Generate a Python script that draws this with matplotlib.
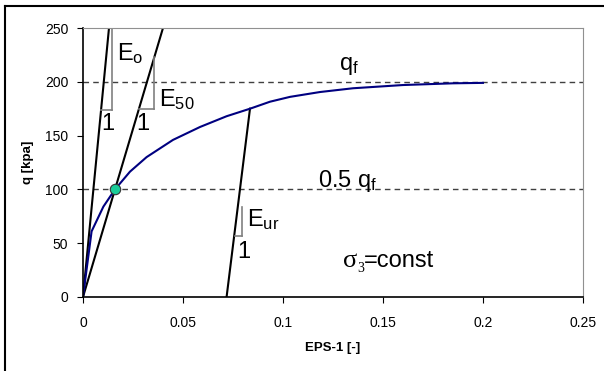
import matplotlib
matplotlib.use("Agg")
import matplotlib.pyplot as plt
from matplotlib.lines import Line2D

plt.rcParams['font.family'] = ['Liberation Sans', 'DejaVu Sans']
plt.rcParams['mathtext.fontset'] = 'custom'
plt.rcParams['mathtext.rm'] = 'Liberation Sans'
plt.rcParams['mathtext.it'] = 'Liberation Sans:italic'

# stress-strain curve
eps_curve = [0, 0.0043, 0.0102, 0.016, 0.0235, 0.0318, 0.045, 0.0585, 0.0718,
             0.0835, 0.0935, 0.1035, 0.1185, 0.135, 0.16, 0.185, 0.2]
q_curve = [0, 61, 84, 100, 116.5, 130, 146, 158, 168,
           175, 181.5, 186, 190.5, 194, 197, 198.6, 199]

# stiffness lines
eps_e0 = [0, 0.013]
q_e0 = [0, 250]
eps_e50 = [0, 0.04]
q_e50 = [0, 250]
eps_eur = [0.0718, 0.0835]
q_eur = [0, 175]

# the E50 point and reference levels
eps_pt = [0.016]
q_pt = [100]
q_levels = [200, 100]

# slope triangles: (vertical x, bottom q, top q, horizontal start x)
tri_e0 = (0.0143, 174, 250, 0.0090)
tri_e50 = (0.0355, 174.7, 223, 0.0280)
tri_eur = (0.0797, 57, 84, 0.0760)

fig = plt.figure(figsize=(6.04, 3.71), dpi=100)
ax = fig.add_axes([0.1374, 0.1995, 0.8278, 0.725])

# reference levels
for q in q_levels:
    ax.plot([0, 0.25], [q, q], color='#404040', lw=1, ls=(0, (4, 3)))

ax.plot(eps_e0, q_e0, color='black', lw=1.5)
ax.plot(eps_e50, q_e50, color='black', lw=1.5)
ax.plot(eps_eur, q_eur, color='black', lw=1.5)
ax.plot(eps_curve, q_curve, color='#000080', lw=1.5)

for xv, qb, qt, xh in (tri_e0, tri_e50, tri_eur):
    ax.plot([xv, xv], [qb, qt], color='#808080', lw=1.2)
    ax.plot([xh, xv], [qb, qb], color='#808080', lw=1.2)

ax.plot(eps_pt, q_pt, 'o', ms=7.5, color='#1ACC99', mec='#333333', mew=0.8, zorder=5)

fs = 17
ax.text(0.017, 220, r'E$_\mathrm{o}$', fontsize=fs, va='baseline')
ax.text(0.038, 177, r'E$_\mathrm{50}$', fontsize=fs, va='baseline')
ax.text(0.0125, 161, '1', fontsize=fs, ha='center', va='center')
ax.text(0.030, 161, '1', fontsize=fs, ha='center', va='center')
ax.text(0.0818, 66, r'E$_\mathrm{ur}$', fontsize=fs, va='baseline')
ax.text(0.0805, 42, '1', fontsize=fs, ha='center', va='center')
ax.text(0.128, 211, r'q$_\mathrm{f}$', fontsize=fs, va='baseline')
ax.text(0.1175, 102, r'0.5 q$_\mathrm{f}$', fontsize=fs, va='baseline')

# sigma_3 = const, built from pieces so sigma stays upright serif
sig = ax.text(0.1298, 28, 'σ', fontsize=19, va='baseline', family='Liberation Serif')
sub = ax.annotate('3', xy=(1, 28), xycoords=(sig, 'data'), xytext=(0.3, -3.5),
                  textcoords='offset points', fontsize=10, va='baseline',
                  family='Liberation Serif')
ax.annotate('=const', xy=(1, 28), xycoords=(sub, 'data'), xytext=(0, 0),
            textcoords='offset points', fontsize=fs, va='baseline')

ax.set_xlim(0, 0.25)
ax.set_ylim(0, 250)
ax.set_xticks([0, 0.05, 0.1, 0.15, 0.2, 0.25])
ax.set_xticklabels(['0', '0.05', '0.1', '0.15', '0.2', '0.25'])
ax.set_yticks([0, 50, 100, 150, 200, 250])
ax.tick_params(axis='x', direction='out', length=4, pad=10, labelsize=10)
ax.tick_params(axis='y', direction='out', length=4.5, pad=6, labelsize=10)

for s in ('top', 'right'):
    ax.spines[s].set_color('#909090')
for s in ('left', 'bottom'):
    ax.spines[s].set_color('black')
    ax.spines[s].set_linewidth(1.2)

ax.set_xlabel('EPS-1 [-]', fontsize=9.5, fontweight='bold', labelpad=8)
ax.set_ylabel('q [kpa]', fontsize=9.5, fontweight='bold', labelpad=8)

# outer frame (left and top edges only visible)
fig.add_artist(Line2D([5 / 604, 5 / 604], [0, 1 - 6 / 371], color='black', lw=1.5))
fig.add_artist(Line2D([5 / 604, 1], [1 - 6 / 371, 1 - 6 / 371], color='black', lw=1.5))

fig.savefig('out.png', dpi=100)
